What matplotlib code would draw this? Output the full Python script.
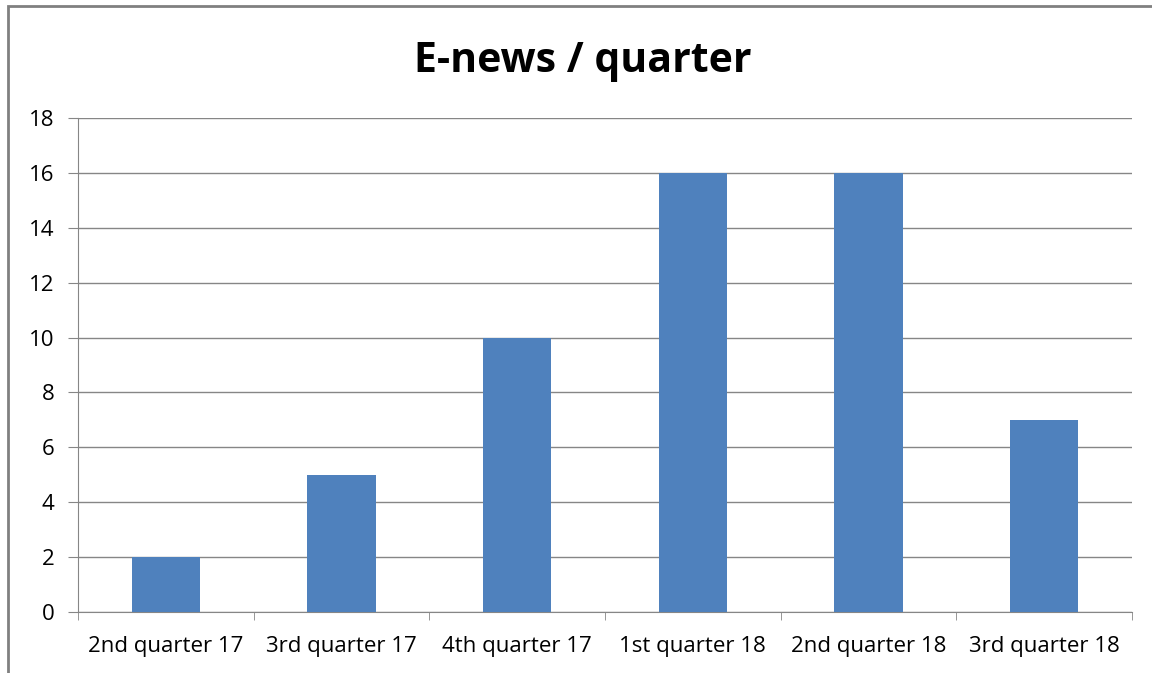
import matplotlib.pyplot as plt
import numpy as np
from matplotlib.patches import Rectangle

quarters = ['2nd quarter 17', '3rd quarter 17', '4th quarter 17',
            '1st quarter 18', '2nd quarter 18', '3rd quarter 18']
enews = [2, 5, 10, 16, 16, 7]

plt.rcParams['font.family'] = ['Open Sans', 'DejaVu Sans']

fig = plt.figure(figsize=(11.52, 6.73), dpi=100)
ax = fig.add_axes([0.0677, 0.0906, 0.9149, 0.7341])

x = np.arange(len(quarters))
ax.bar(x, enews, width=0.39, color='#4F81BD', zorder=3)

ax.set_xlim(-0.5, len(quarters) - 0.5)
ax.set_ylim(0, 18)
ax.set_yticks(range(0, 19, 2))
ax.set_xticks(x)
ax.set_xticklabels(quarters)
ax.set_xticks(np.arange(-0.5, len(quarters)), minor=True)
ax.tick_params(axis='x', which='major', length=0, pad=17, labelsize=16)
ax.tick_params(axis='x', which='minor', length=6, color='#868686')
ax.tick_params(axis='y', length=7, color='#868686', labelsize=16, pad=10)
ax.grid(axis='y', color='#868686', linewidth=1, zorder=0)

for s in ['top', 'right']:
    ax.spines[s].set_visible(False)
ax.spines['left'].set_color('#868686')
ax.spines['bottom'].set_color('#868686')

fig.text(0.506, 0.908, 'E-news / quarter', ha='center', va='center',
         fontsize=29.5, fontweight='bold')

# outer chart frame
fig.patches.append(Rectangle((8 / 1152, -0.05), 1.1, 1.05 - 6.5 / 673,
                             transform=fig.transFigure, fill=False,
                             edgecolor='#808080', linewidth=2))

fig.savefig('out.png', dpi=100)
